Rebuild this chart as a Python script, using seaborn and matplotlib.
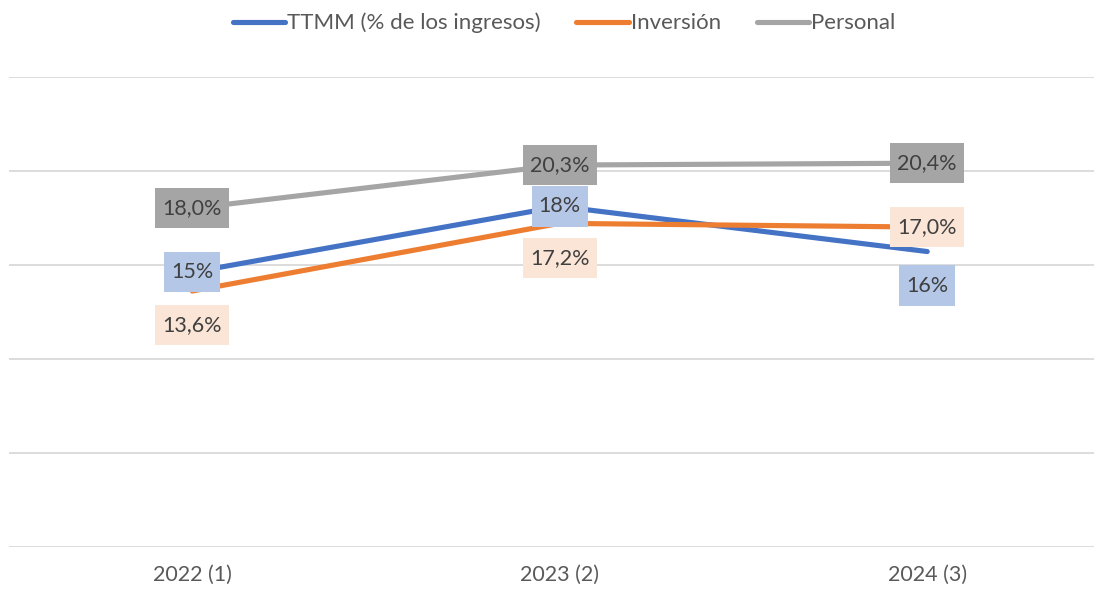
import matplotlib
matplotlib.use("Agg")
import matplotlib.pyplot as plt
from matplotlib.path import Path
import seaborn as sns
import pandas as pd

categories = ["2022 (1)", "2023 (2)", "2024 (3)"]
ttmm = [14.6, 18.1, 15.7]
inversion = [13.6, 17.2, 17.0]
personal = [18.0, 20.3, 20.4]
series_names = ["TTMM (% de los ingresos)", "Inversión", "Personal"]

colors = ["#4472C4", "#ED7D31", "#A5A5A5"]
label_bg = ["#B4C7E7", "#FBE5D6", "#A5A5A5"]

rows = []
for name, vals in zip(series_names, [ttmm, inversion, personal]):
    for c, v in zip(categories, vals):
        rows.append({"cat": c, "val": v, "serie": name})
df = pd.DataFrame(rows)

sns.set_style("white")
plt.rcParams["font.family"] = ["Lato", "DejaVu Sans"]


def tall_box(x0, y0, width, height, mutation_size):
    px = 0.33 * mutation_size
    py = 0.47 * mutation_size
    x0, y0 = x0 - px, y0 - py
    x1, y1 = x0 + width + 2 * px, y0 + height + 2 * py
    return Path([(x0, y0), (x1, y0), (x1, y1), (x0, y1), (x0, y0)], closed=True)


fig = plt.figure(figsize=(10.94, 5.90), dpi=100)
ax = fig.add_axes([8.5 / 1094, (590 - 546.7) / 590, 1102.5 / 1094, 470 / 590])

sns.lineplot(data=df, x="cat", y="val", hue="serie", palette=colors,
             hue_order=series_names, linewidth=3.7, ax=ax, sort=False,
             legend=True)
for ln in ax.get_lines():
    ln.set_solid_capstyle("round")

ax.set_xlim(-0.5, 2.5)
ax.set_ylim(0, 25)
ax.set_yticks([0, 5, 10, 15, 20, 25])
ax.yaxis.grid(True, color="#D9D9D9", linewidth=1.3)
ax.set_axisbelow(True)
ax.set_yticklabels([])
ax.tick_params(axis="y", length=0)
ax.tick_params(axis="x", length=0, labelsize=15.5, labelcolor="#595959", pad=13)
for s in ax.spines.values():
    s.set_visible(False)
ax.set_xlabel("")
ax.set_ylabel("")

# data labels: offsets (points) - 0 means centered
offsets = {
    0: [0, 0, -24.5],
    1: [-24.5, -25, 0],
    2: [0, 0, 0],
}
data = [ttmm, inversion, personal]
for si, vals in enumerate(data):
    for i, v in enumerate(vals):
        if si == 0:
            txt = f"{v:.0f}%"
        else:
            txt = f"{v:.1f}%".replace(".", ",")
        ax.annotate(txt, xy=(i, v), xytext=(0, offsets[si][i]),
                    textcoords="offset points", ha="center", va="center",
                    fontsize=15.5, color="#404040", zorder=10,
                    bbox=dict(boxstyle=tall_box, fc=label_bg[si], ec="none"))

handles, labels = ax.get_legend_handles_labels()
ax.get_legend().remove()
leg = fig.legend(handles, labels, loc="center",
                 bbox_to_anchor=(564 / 1094, 1 - 23 / 590), ncol=3,
                 frameon=False, fontsize=16, handlelength=2.35,
                 handletextpad=0.1, columnspacing=1.6)
for t in leg.get_texts():
    t.set_color("#595959")
for h in leg.get_lines():
    h.set_linewidth(3.7)

fig.savefig("out.png", dpi=100)
